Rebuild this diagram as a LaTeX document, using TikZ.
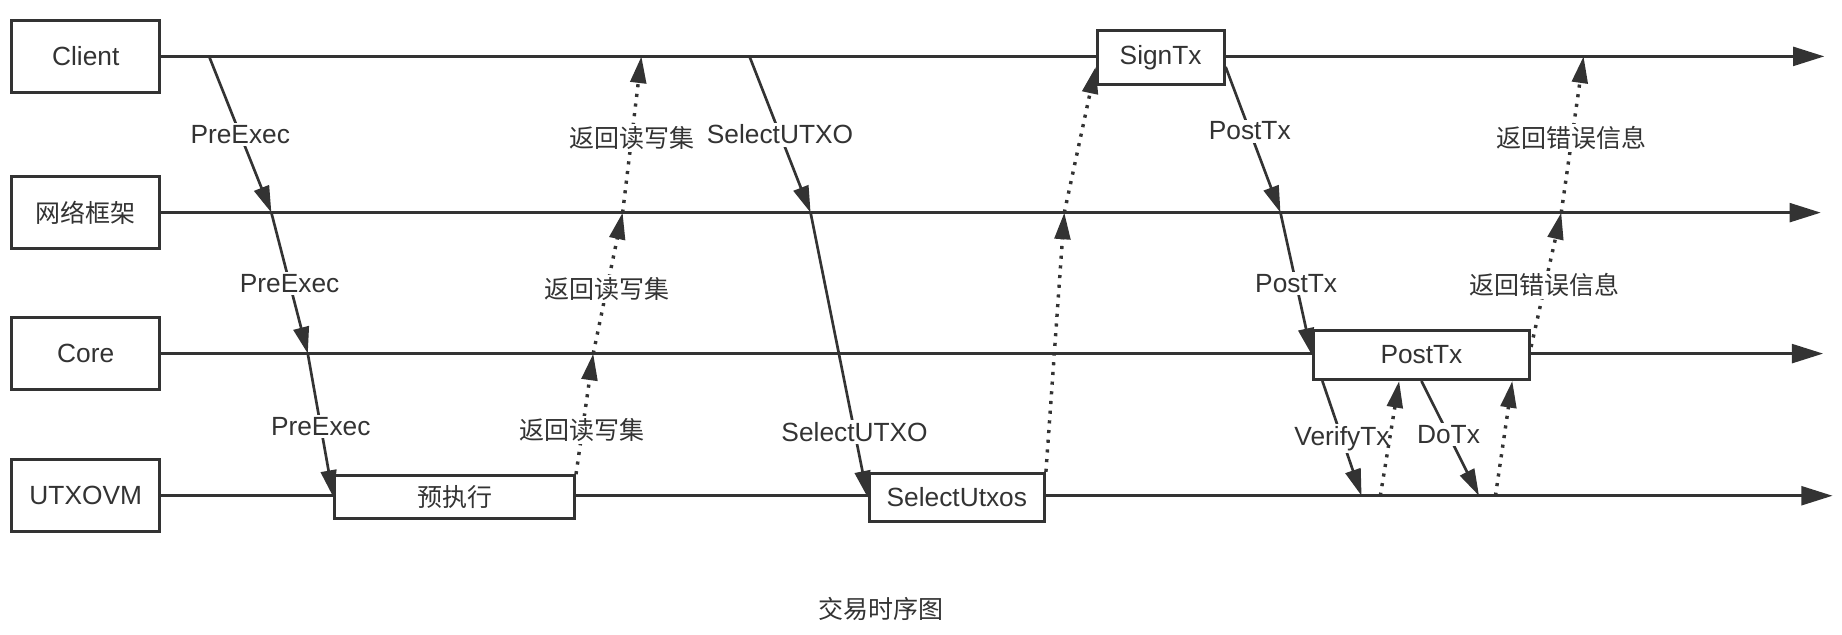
\documentclass[tikz,border=0pt]{standalone}
\usepackage{fontspec}
\setmainfont{Liberation Sans}
\newfontfamily\cjk[Scale=0.95]{Noto Sans CJK SC}
\usetikzlibrary{arrows.meta,calc}
\definecolor{dk}{RGB}{51,51,51}

\begin{document}
\begin{tikzpicture}[x=0.75pt,y=0.75pt,yscale=-1,xscale=1,color=dk,
    font=\fontsize{16.8}{20}\selectfont,
    actor/.style={draw, line width=2pt, fill=white, inner sep=0pt, minimum width=94.5pt, minimum height=45.75pt},
    act/.style={draw, line width=2pt, fill=white, inner sep=0pt},
    life/.style={line width=2pt, -{Triangle[length=20pt,width=12pt]}},
    msg/.style={line width=1.7pt, -{Triangle[length=17pt,width=10pt]}},
    ret/.style={line width=2.2pt, dash pattern=on 2pt off 4.2pt, -{Triangle[length=17pt,width=10pt]}},
    lbl/.style={fill=white, inner sep=1.5pt}]
\useasboundingbox (0,0) rectangle (1568,540);

%Shape: lifeline boxes
\node[actor] (Client) at (73,48) {Client};
\node[actor] (Net) at (73,181) {\cjk 网络框架};
\node[actor] (Core) at (73,301) {Core};
\node[actor] (Vm) at (73,422) {UTXOVM};

%Shape: lifelines
\coordinate (ClientEnd) at (1553,48);
\coordinate (NetEnd) at (1550,181);
\coordinate (CoreEnd) at (1552,301);
\coordinate (VmEnd) at (1560,422);
\draw[life] (Client.east) -- (ClientEnd);
\draw[life] (Net.east) -- (NetEnd);
\draw[life] (Core.east) -- (CoreEnd);
\draw[life] (Vm.east) -- (VmEnd);

%Shape: activation boxes
\node[act, minimum width=153pt, minimum height=27pt] (PreRun) at (387,423) {\cjk 预执行};
\node[act, minimum width=111.75pt, minimum height=30.75pt] (SelUtxos) at (814.5,423.5) {SelectUtxos};
\node[act, minimum width=81pt, minimum height=34.5pt] (SignTx) at (988,49) {SignTx};
\node[act, minimum width=138pt, minimum height=31.5pt] (PostTx) at (1210,302) {PostTx};

%points on the lifelines
\coordinate (c1) at (178,48);
\coordinate (n1) at (231,181);
\coordinate (k1) at (262,301);
\coordinate (k2) at (505,301);
\coordinate (n2) at (530,181);
\coordinate (c2) at (546,48);
\coordinate (c3) at (638,48);
\coordinate (n3) at (690,181);
\coordinate (n4) at (906,181);
\coordinate (n5) at (1090,181);
\coordinate (u1) at (1159,422);
\coordinate (u2) at (1175,422);
\coordinate (u3) at (1259,422);
\coordinate (u4) at (1273,422);
\coordinate (n6) at (1329,181);
\coordinate (c4) at (1348,48);

% pre-execution
\draw[msg] (c1) -- (n1) node[lbl, pos=0.5] (pe1) {PreExec};
\draw[msg] (n1) -- (k1) node[lbl, pos=0.5] (pe2) {PreExec};
\draw[msg] (k1) -- (PreRun.west) node[lbl, pos=0.51] (pe3) {PreExec};
\draw[ret] (PreRun.north east) -- (k2) node[lbl, pos=0.37] (rw1) {\cjk 返回读写集};
\draw[ret] (k2) -- (n2) node[lbl, pos=0.46] (rw2) {\cjk 返回读写集};
\draw[ret] (n2) -- (c2) node[lbl, pos=0.48] (rw3) {\cjk 返回读写集};

% select utxo
\draw[msg] (c3) -- (n3) node[lbl, pos=0.5] (su1) {SelectUTXO};
\draw[msg] (n3) -- (SelUtxos.west) node[lbl, pos=0.77] (su2) {SelectUTXO};
\draw[ret] (SelUtxos.north east) -- (n4);
\draw[ret] (n4) -- ([yshift=6pt]SignTx.west);

% post tx
\draw[msg] ([yshift=6pt]SignTx.east) -- (n5) node[lbl, pos=0.44] (pt1) {PostTx};
\draw[msg] (n5) -- (PostTx.west) node[lbl, pos=0.5] (pt2) {PostTx};
\draw[msg] ([xshift=6.75pt]PostTx.south west) -- (u1) node[lbl, pos=0.5] (vt) {VerifyTx};
\draw[ret] (u2) -- ([xshift=-14.25pt]PostTx.south);
\draw[msg] (PostTx.south) -- (u3) node[lbl, pos=0.47] (dt) {DoTx};
\draw[ret] (u4) -- ([xshift=-12pt]PostTx.south east);
\draw[ret] ([yshift=-5pt]PostTx.east) -- (n6) node[lbl, pos=0.46] (er1) {\cjk 返回错误信息};
\draw[ret] (n6) -- (c4) node[lbl, pos=0.48] (er2) {\cjk 返回错误信息};

% Text Node
\node (cap) at (750,518) {\cjk 交易时序图};
\end{tikzpicture}
\end{document}
